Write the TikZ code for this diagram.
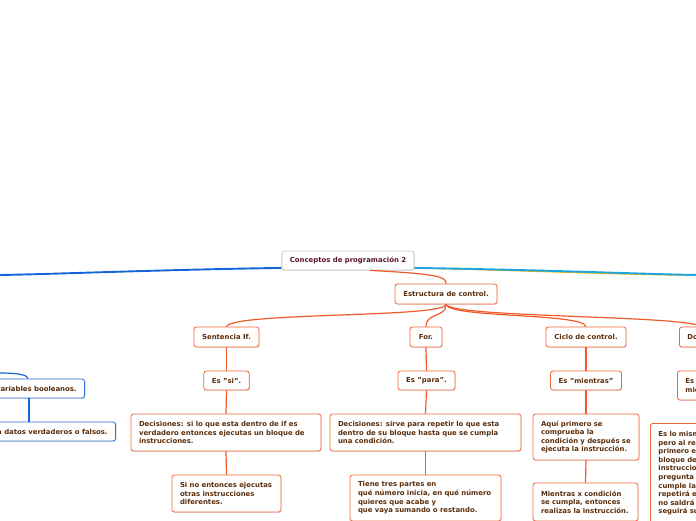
\documentclass[tikz,border=0pt]{standalone}
\usepackage{fontspec}
\setmainfont{DejaVu Sans}
\usetikzlibrary{shadows,calc}
\definecolor{orbord}{HTML}{F0663A}
\definecolor{orline}{HTML}{F05A28}
\definecolor{txt}{HTML}{5A2E0C}
\definecolor{roottxt}{HTML}{5A1030}
\definecolor{blueline}{HTML}{1565D8}
\definecolor{bluebord}{HTML}{2A6FD6}
\definecolor{cyanline}{HTML}{1EA4DE}
\definecolor{yelline}{HTML}{F2B705}
\newcommand{\fsz}{\fontsize{6.9}{8.6}\selectfont\bfseries}
\tikzset{
  box/.style={draw=orbord, line width=0.8pt, rounded corners=2.5pt, fill=white,
    text=txt, font=\fsz, inner xsep=8pt, inner ysep=0pt, align=left,
    drop shadow={shadow xshift=0.6pt, shadow yshift=-0.9pt, opacity=0.25}},
  rootbox/.style={box, draw=gray!45, text=roottxt},
  bbox/.style={box, draw=bluebord},
  conn/.style={draw=orline, line width=1.2pt},
  bconn/.style={draw=blueline, line width=1.2pt}
}
\begin{document}
\begin{tikzpicture}[x=1pt,y=-1pt]
\useasboundingbox (0,0) rectangle (696,520);
\clip (0,0) rectangle (696,520);
% nodes
\node[rootbox, minimum width=132, minimum height=19, align=center] (root) at (348,260.5) {Conceptos de programación 2};
\node[box, minimum width=102, minimum height=20, align=center] (est) at (446,294) {Estructura de control.};
\node[box, minimum width=65, minimum height=20, align=center] (sif) at (226.5,337) {Sentencia If.};
\node[box, minimum width=32, minimum height=20, align=center] (for) at (426,337) {For.};
\node[box, minimum width=80, minimum height=20, align=center] (cic) at (586,337) {Ciclo de control.};
\node[box, minimum height=20, anchor=west] (do) at (679,337) {Do while.};
\node[box, minimum width=45, minimum height=19, align=center] (essi) at (226.5,380.5) {Es "si".};
\node[box, minimum width=57, minimum height=19, align=center] (espara) at (426.5,380.5) {Es "para".};
\node[box, minimum width=70, minimum height=19, align=center] (esmien) at (586,380.5) {Es "mientras"};
\node[box, minimum height=29, anchor=west] (eshacer) at (677,385.5) {Es "hacer\\mientras"};
\node[box, text width=174, minimum height=37] (dec1) at (226,432.5) {Decisiones: si lo que esta dentro de if es\\verdadero entonces ejecutas un bloque de\\instrucciones.};
\node[box, text width=175, minimum height=37] (dec2) at (425.5,432.5) {Decisiones: sirve para repetir lo que esta\\dentro de su bloque hasta que se cumpla\\una condición.};
\node[box, text width=90, minimum height=46] (aqui) at (586,437) {Aquí primero se\\comprueba la\\condición y después se\\ejecuta la instrucción.};
\node[box, text width=100, minimum height=100, anchor=north west] (eslo) at (650,423) {Es lo mismo que el while\\pero al revés ya que\\primero ejecuta el\\bloque de\\instrucciones y luego\\pregunta si se\\cumple la condición,\\repetirá el bloque y\\no saldrá del ciclo y\\seguirá su curso.};
\node[box, text width=93, minimum height=37] (sino) at (226.5,493.5) {Si no entonces ejecutas\\otras instrucciones\\diferentes.};
\node[box, text width=135, minimum height=46] (tiene) at (425.5,498) {Tiene tres partes en\\qué número inicia, en qué número\\quieres que acabe y\\ que vaya sumando o restando.};
\node[box, text width=89, minimum height=38] (mient) at (585.5,502) {Mientras x condición\\se cumpla, entonces\\realizas la instrucción.};
\node[bbox, minimum height=19, anchor=east] (var) at (85,388.5) {Son variables booleanos.};
\node[bbox, minimum height=19, anchor=east] (datos) at (116,431.5) {Almacena datos verdaderos o falsos.};
% main lines
\coordinate (lend) at (0,275);
\coordinate (rend) at (697,275);
\draw[blueline, line width=1.9pt] ([yshift=2.5pt]root.south west) .. controls (150,270) and (60,274) .. (lend);
\draw[yelline, line width=1.3pt, yshift=-1.3pt] ([yshift=2.5pt]root.south east) .. controls (550,270) and (640,274) .. (rend);
\draw[cyanline, line width=1.9pt] ([yshift=2.5pt]root.south east) .. controls (550,270) and (640,274) .. (rend);
% orange connectors
\draw[conn] ([xshift=22pt]root.south) .. controls (440,274) and (446,277) .. (est.north);
\draw[conn] (est.south) .. controls (444,318) and (232,312) .. (sif.north);
\draw[conn] (est.south) .. controls (446,318) and (426,312) .. (for.north);
\draw[conn] (est.south) .. controls (449,318) and (584,313) .. (cic.north);
\coordinate (doin) at (702,327);
\draw[conn] (est.south) .. controls (452,318) and (690,315) .. (doin);
\draw[conn] (sif.south) -- (essi.north);
\draw[conn] (essi.south) -- (dec1.north);
\draw[conn] (dec1.south) -- (sino.north);
\draw[conn] (for.south) -- (espara.north);
\draw[conn] (espara.south) -- (dec2.north);
\draw[conn] (dec2.south) -- (tiene.north);
\draw[conn] (cic.south) -- (esmien.north);
\draw[conn] (esmien.south) -- (aqui.north);
\draw[conn] (aqui.south) -- (mient.north);
% blue left connectors
\coordinate (vl) at (0,373);
\coordinate (vtop) at ($(var.north east)+(-57,0)$);
\coordinate (vbot) at ($(var.south east)+(-56,0)$);
\draw[bconn] (vl) .. controls (18,373) and (28,375) .. (vtop);
\draw[bconn] (vbot) -- (vbot |- datos.north);
\end{tikzpicture}
\end{document}
